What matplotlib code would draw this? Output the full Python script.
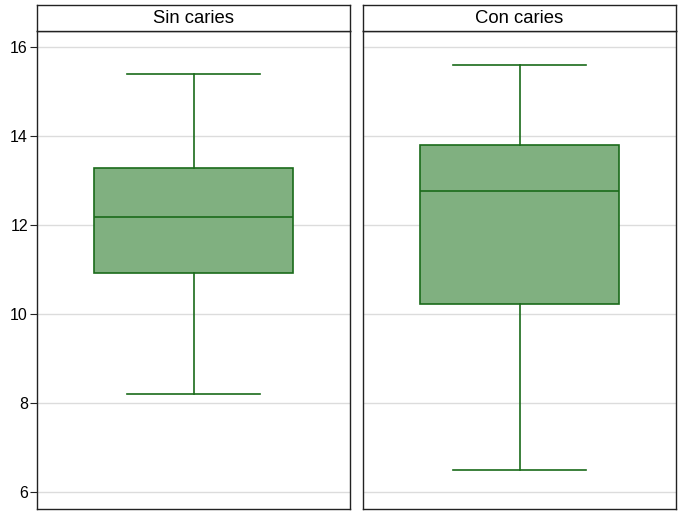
import matplotlib
matplotlib.use('Agg')
import matplotlib.pyplot as plt

# box statistics
groups = ['Sin caries', 'Con caries']
whislo = [8.2, 6.49]
q1 = [10.92, 10.22]
med = [12.19, 12.76]
q3 = [13.29, 13.79]
whishi = [15.4, 15.6]
yticks = [6, 8, 10, 12, 14, 16]

plt.rcParams['font.family'] = ['Liberation Sans', 'DejaVu Sans']

W, H = 678, 518
fig = plt.figure(figsize=(W / 100, H / 100), dpi=100)

fill = '#80b080'
edge = '#1a6b1a'
panels = [(37, 350), (363, 676)]

for i, (x0, x1) in enumerate(panels):
    ax = fig.add_axes([x0 / W, 9 / H, (x1 - x0) / W, 478 / H])
    stats = [dict(whislo=whislo[i], q1=q1[i], med=med[i], q3=q3[i],
                  whishi=whishi[i], fliers=[])]
    ax.bxp(stats, positions=[1], widths=0.636, capwidths=[0.425],
           patch_artist=True, showfliers=False,
           boxprops=dict(facecolor=fill, edgecolor=edge, linewidth=1.2),
           medianprops=dict(color=edge, linewidth=1.2),
           whiskerprops=dict(color=edge, linewidth=1.2),
           capprops=dict(color=edge, linewidth=1.2))
    ax.set_xlim(0.5, 1.5)
    ax.set_ylim(5.62, 16.36)
    ax.set_yticks(yticks)
    ax.grid(axis='y', color='#dcdcdc', linewidth=1)
    ax.set_axisbelow(True)
    ax.set_xticks([])
    for s in ax.spines.values():
        s.set_color('#222222')
        s.set_linewidth(1)
    if i == 0:
        ax.tick_params(axis='y', direction='out', length=5, pad=1.5,
                       labelsize=11.5, color='#222222')
    else:
        ax.tick_params(axis='y', left=False, labelleft=False)

    # title strip
    sx = fig.add_axes([x0 / W, (H - 31) / H, (x1 - x0) / W, 26 / H])
    sx.set_xticks([])
    sx.set_yticks([])
    for s in sx.spines.values():
        s.set_color('#222222')
        s.set_linewidth(1)
    sx.text(0.5, 0.47, groups[i], ha='center', va='center', fontsize=13.3,
            transform=sx.transAxes)

fig.savefig('out.png', dpi=100)
